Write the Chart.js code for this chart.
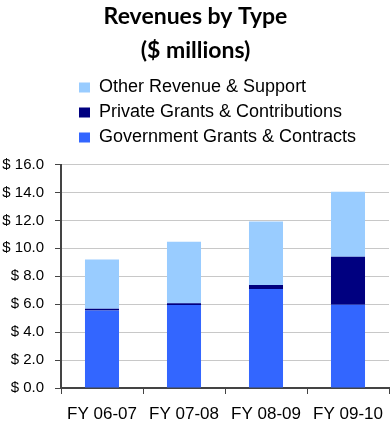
<!DOCTYPE html>
<html>
<head>
<meta charset="utf-8">
<script src="https://cdn.jsdelivr.net/npm/chart.js@4.4.0/dist/chart.umd.min.js"></script>
<style>
  html, body { margin: 0; padding: 0; background: #fff; }
  #wrap { width: 390px; height: 424px; }
</style>
</head>
<body>
<div id="wrap"><canvas id="chart"></canvas></div>
<script>
"use strict";

const years = ["FY 06-07", "FY 07-08", "FY 08-09", "FY 09-10"];
const governmentGrants = [5.55, 5.95, 7.08, 5.96];
const privateGrants = [0.12, 0.12, 0.3, 3.43];
const otherRevenue = [3.53, 4.4, 4.54, 4.66];
const yTickValues = [0, 2, 4, 6, 8, 10, 12, 14, 16];

let canvasElem = document.getElementById("chart");

Chart.defaults.font.family = "'Liberation Sans', Arial, sans-serif";
Chart.defaults.color = "#000";

// extra room under the legend, and legend boxes nudged in from the axis
const legendSpacing = {
  id: "legendSpacing",
  beforeInit(chart) {
    const fit = chart.legend.fit;
    chart.legend.fit = function () {
      fit.call(this);
      this.height += 8;
    };
  },
  afterLayout(chart) {
    chart.legend.left += 11;
  },
};

function renderChart() {
  let chartObj = {
    type: "bar",
    data: {
      labels: years,
      datasets: [
        {
          label: "Government Grants & Contracts",
          data: governmentGrants,
          backgroundColor: "#3366ff",
        },
        {
          label: "Private Grants & Contributions",
          data: privateGrants,
          backgroundColor: "#000080",
        },
        {
          label: "Other Revenue & Support",
          data: otherRevenue,
          backgroundColor: "#99ccff",
        },
      ],
    },
    options: {
      responsive: true,
      maintainAspectRatio: false,
      animation: false,
      barPercentage: 0.415,
      categoryPercentage: 1,
      layout: {
        padding: { left: 2, right: 1, top: 0, bottom: 0 },
      },
      scales: {
        x: {
          stacked: true,
          afterFit: (scale) => {
            scale.height = 36;
          },
          grid: {
            drawOnChartArea: false,
            tickLength: 6,
            tickColor: "#444",
          },
          border: { color: "#444", width: 2 },
          ticks: {
            padding: 4,
            font: { size: 17, lineHeight: "33px" },
          },
        },
        y: {
          stacked: true,
          min: yTickValues[0],
          max: yTickValues[yTickValues.length - 1],
          afterBuildTicks: (scale) => {
            scale.ticks = yTickValues.map((v) => ({ value: v }));
          },
          afterFit: (scale) => {
            scale.width = 59;
          },
          grid: {
            color: "#c8c8c8",
            tickColor: "#444",
            tickLength: 6,
          },
          border: { color: "#444", width: 2 },
          ticks: {
            padding: 11,
            font: { size: 15 },
            callback: (v) => "$ " + v.toFixed(1),
          },
        },
      },
      plugins: {
        title: {
          display: true,
          text: ["Revenues by Type", "($ millions)"],
          color: "#000",
          font: { family: "Lato", size: 23, weight: "bold", lineHeight: "34px" },
          padding: { top: 0, bottom: 3.5 },
        },
        legend: {
          reverse: true,
          fullSize: false,
          align: "start",
          labels: {
            boxWidth: 11,
            boxHeight: 10,
            padding: 7,
            color: "#000",
            font: { size: 18 },
          },
        },
        tooltip: { enabled: false },
      },
    },
    plugins: [legendSpacing],
  };
  new Chart(canvasElem, chartObj);
}

renderChart();
</script>
</body>
</html>
